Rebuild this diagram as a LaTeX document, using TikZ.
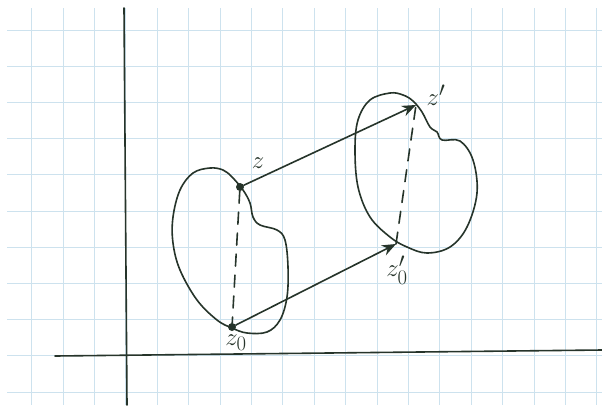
\documentclass[tikz,border=0pt]{standalone}
\usepackage{amsmath}
\usepackage{tikz}
\usetikzlibrary{arrows.meta,positioning}
\definecolor{ink}{RGB}{38,52,42}
\definecolor{gridblue}{RGB}{205,226,238}

\begin{document}
\begin{tikzpicture}[x=1pt,y=-1pt,
      ink line/.style={draw=ink, line width=1.6pt, line cap=round, line join=round},
      pt/.style={circle, fill=ink, inner sep=0pt, minimum size=8pt},
      lbl/.style={font=\Huge, text=ink, inner sep=1pt},
      arrow/.style={ink line, -{Stealth[length=14pt,width=11pt]}},
      link/.style={ink line, dash pattern=on 12pt off 9pt}
    ]
    \useasboundingbox (0,0) rectangle (602,405);
    \fill[white] (0,0) rectangle (602,405);

    % grid paper
    \foreach \i in {0,...,18}
      \draw[gridblue, line width=1pt] ({31.7+31.4*\i},8) -- ({31.7+31.4*\i},405);
    \foreach \j in {0,...,10}
      \draw[gridblue, line width=1pt] (7,{30+36.2*\j}) -- (602,{30+36.2*\j});

    % axes
    \draw[ink line] (124,8) -- (127,405);
    \draw[ink line] (55,356) -- (602,350);

    % the two regions
    \draw[ink line] plot[smooth cycle, tension=0.6] coordinates {
      (210,168) (223,170) (232,177) (243,190) (250,203) (253,217) (260,225)
      (277,230) (285,240) (288,267) (287,297) (280,320) (267,332) (247,333)
      (232,328) (217,320) (197,300) (180,270) (173,243) (173,217) (180,190)
      (193,173)};
    \draw[ink line] plot[smooth cycle, tension=0.6] coordinates {
      (390,93) (403,95) (413,101) (422,112) (430,127) (437,132) (442,140)
      (460,141) (473,160) (477,193) (467,227) (450,247) (427,253) (407,247)
      (390,237) (370,217) (358,187) (355,150) (358,120) (370,100)};

    \node[pt] (z)  at (240,187) {};
    \node[pt] (z0) at (232,327) {};
    \coordinate (z1)  at (416,105);
    \coordinate (z10) at (396,244);

    \node[lbl] (zlab)   at (258,163) {$z$};
    \node[lbl] (z0lab)  at (236,343) {$z_0$};
    \node[lbl] (z1lab)  at (436,95)  {$z'$};
    \node[lbl] (z10lab) at (397,270) {$z_0'$};

    \draw[link]  (z)   -- (z0);
    \draw[link]  (z10) -- (z1);
    \draw[arrow] (z)   -- (z1);
    \draw[arrow] (z0)  -- (z10);
  \end{tikzpicture}
\end{document}
